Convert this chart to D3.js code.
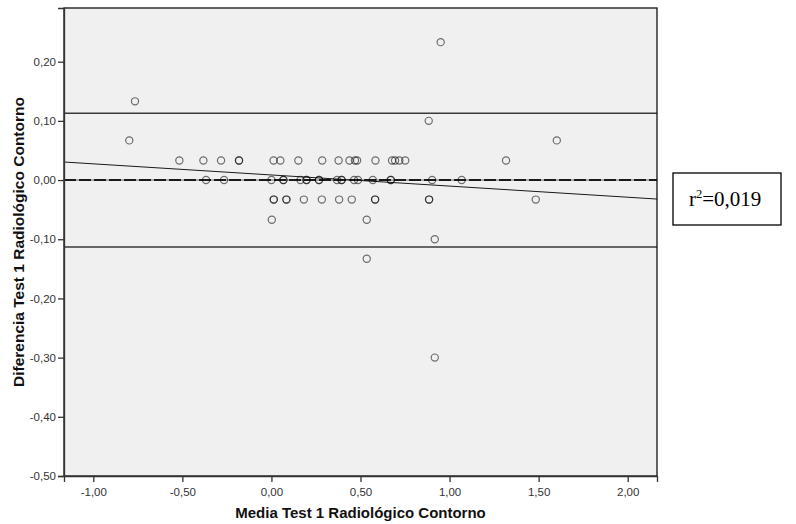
<!DOCTYPE html>
<html>
<head>
<meta charset="utf-8">
<script src="https://cdn.jsdelivr.net/npm/d3@7"></script>
<style>
  html, body { margin: 0; padding: 0; background: #ffffff; }
  svg { display: block; }
  .tick text { font-family: "Liberation Sans", Arial, sans-serif; font-size: 11.5px; fill: #333; }
  .axis-title { font-family: "Liberation Sans", Arial, sans-serif; font-weight: bold; fill: #111; }
</style>
</head>
<body>
<svg id="chart" width="796" height="524"></svg>
<script>
// Mean of the two measurements (x) and their difference (y), one entry per case
const media = [
  -0.517, -0.382, -0.283, -0.182, -0.182, 0.012, 0.050, 0.151, 0.285, 0.377,
  0.438, 0.469, 0.481, 0.584, 0.677, 0.694, 0.718, 0.751, 1.317,
  -0.798, 1.602,
  0.883,
  -0.766,
  0.950,
  -0.367, -0.266, 0.000, 0.067, 0.067, 0.163, 0.197, 0.197, 0.267, 0.267,
  0.368, 0.394, 0.394, 0.464, 0.486, 0.569, 0.670, 0.670, 0.902, 1.068,
  0.013, 0.013, 0.084, 0.084, 0.182, 0.283, 0.380, 0.451, 0.582, 0.582,
  0.885, 0.885, 1.484,
  0.002, 0.535,
  0.917,
  0.535,
  0.917
];
const diferencia = [
  0.033, 0.033, 0.033, 0.033, 0.033, 0.033, 0.033, 0.033, 0.033, 0.033,
  0.033, 0.033, 0.033, 0.033, 0.033, 0.033, 0.033, 0.033, 0.033,
  0.067, 0.067,
  0.100,
  0.133,
  0.233,
  0, 0, 0, 0, 0, 0, 0, 0, 0, 0,
  0, 0, 0, 0, 0, 0, 0, 0, 0, 0,
  -0.033, -0.033, -0.033, -0.033, -0.033, -0.033, -0.033, -0.033, -0.033, -0.033,
  -0.033, -0.033, -0.033,
  -0.067, -0.067,
  -0.100,
  -0.133,
  -0.300
];

// Mean difference, limits of agreement and fitted regression of difference on mean
const meanDiff = 0.0;
const limits = [0.113, -0.113];
const regIntercept = 0.0086;
const regSlope = -0.0188;
const r2Text = "0,019";

// Axis ticks
const xTicks = [-1.0, -0.5, 0.0, 0.5, 1.0, 1.5, 2.0];
const yTicks = [0.2, 0.1, 0.0, -0.1, -0.2, -0.3, -0.4, -0.5];
const xDomain = [-1.1645, 2.1645];
const yDomain = [-0.5, 0.2907];

const svg = d3.select("#chart");
const plot = { left: 64, top: 8, right: 657, bottom: 476 };

const x = d3.scaleLinear().domain(xDomain).range([plot.left, plot.right]);
const y = d3.scaleLinear().domain(yDomain).range([plot.bottom, plot.top]);

const locale = d3.formatLocale({ decimal: ",", thousands: ".", grouping: [3], currency: ["", ""], minus: "-" });
const fmt = locale.format(".2f");

// Plot background
svg.append("rect")
  .attr("x", plot.left).attr("y", plot.top)
  .attr("width", plot.right - plot.left).attr("height", plot.bottom - plot.top)
  .attr("fill", "#f0f0f0");

svg.append("clipPath").attr("id", "plotClip")
  .append("rect")
  .attr("x", plot.left).attr("y", plot.top)
  .attr("width", plot.right - plot.left).attr("height", plot.bottom - plot.top);

const g = svg.append("g").attr("clip-path", "url(#plotClip)");

// Limits of agreement
g.selectAll("line.limit").data(limits).enter().append("line")
  .attr("class", "limit")
  .attr("x1", plot.left).attr("x2", plot.right)
  .attr("y1", d => y(d)).attr("y2", d => y(d))
  .attr("stroke", "#3a3a3a").attr("stroke-width", 1.5);

// Zero / mean difference line
g.append("line")
  .attr("x1", plot.left).attr("x2", plot.right)
  .attr("y1", y(meanDiff)).attr("y2", y(meanDiff))
  .attr("stroke", "#666").attr("stroke-width", 1);
g.append("line")
  .attr("x1", plot.left).attr("x2", plot.right)
  .attr("y1", y(meanDiff)).attr("y2", y(meanDiff))
  .attr("stroke", "#1a1a1a").attr("stroke-width", 2)
  .attr("stroke-dasharray", "12,3");

// Regression line
g.append("line")
  .attr("x1", x(xDomain[0])).attr("x2", x(xDomain[1]))
  .attr("y1", y(regIntercept + regSlope * xDomain[0]))
  .attr("y2", y(regIntercept + regSlope * xDomain[1]))
  .attr("stroke", "#1a1a1a").attr("stroke-width", 1);

// Points
g.selectAll("circle.pt").data(media.map((m, i) => [m, diferencia[i]])).enter().append("circle")
  .attr("class", "pt")
  .attr("cx", d => x(d[0])).attr("cy", d => y(d[1]))
  .attr("r", 3.6)
  .attr("fill", "none")
  .attr("stroke", "#000").attr("stroke-opacity", 0.55).attr("stroke-width", 1.2);

// Frame
svg.append("rect")
  .attr("x", plot.left).attr("y", plot.top)
  .attr("width", plot.right - plot.left).attr("height", plot.bottom - plot.top)
  .attr("fill", "none").attr("stroke", "#111").attr("stroke-width", 1.3);

// Axes
const xAxis = svg.append("g")
  .attr("transform", `translate(0,${plot.bottom})`)
  .call(d3.axisBottom(x).tickValues(xTicks).tickFormat(fmt).tickSizeOuter(0).tickSize(6).tickPadding(6));
const yAxis = svg.append("g")
  .attr("transform", `translate(${plot.left},0)`)
  .call(d3.axisLeft(y).tickValues(yTicks).tickFormat(fmt).tickSizeOuter(0).tickSize(6).tickPadding(2));
[xAxis, yAxis].forEach(a => {
  a.select(".domain").attr("stroke", "#333").attr("stroke-width", 1.3);
  a.selectAll(".tick line").attr("stroke", "#333").attr("stroke-width", 1.3);
});

// Axis titles
svg.append("text")
  .attr("class", "axis-title")
  .attr("font-size", 15)
  .attr("x", (plot.left + plot.right) / 2).attr("y", 518)
  .attr("text-anchor", "middle")
  .text("Media Test 1 Radiológico Contorno");
svg.append("text")
  .attr("class", "axis-title")
  .attr("font-size", 15.5)
  .attr("transform", `translate(24,${(plot.top + plot.bottom) / 2}) rotate(-90)`)
  .attr("text-anchor", "middle")
  .text("Diferencia Test 1 Radiológico Contorno");

// r² annotation box
const box = svg.append("g");
box.append("rect")
  .attr("x", 673).attr("y", 173).attr("width", 108).attr("height", 52)
  .attr("fill", "#fff").attr("stroke", "#000").attr("stroke-width", 1.3);
const rt = box.append("text")
  .attr("x", 689).attr("y", 206)
  .attr("font-family", "'Liberation Serif', 'Times New Roman', serif")
  .attr("font-size", 21).attr("fill", "#000");
rt.append("tspan").text("r");
rt.append("tspan").attr("dy", -8).attr("font-size", 12.5).text("2");
rt.append("tspan").attr("dy", 8).text("=" + r2Text);
</script>
</body>
</html>
